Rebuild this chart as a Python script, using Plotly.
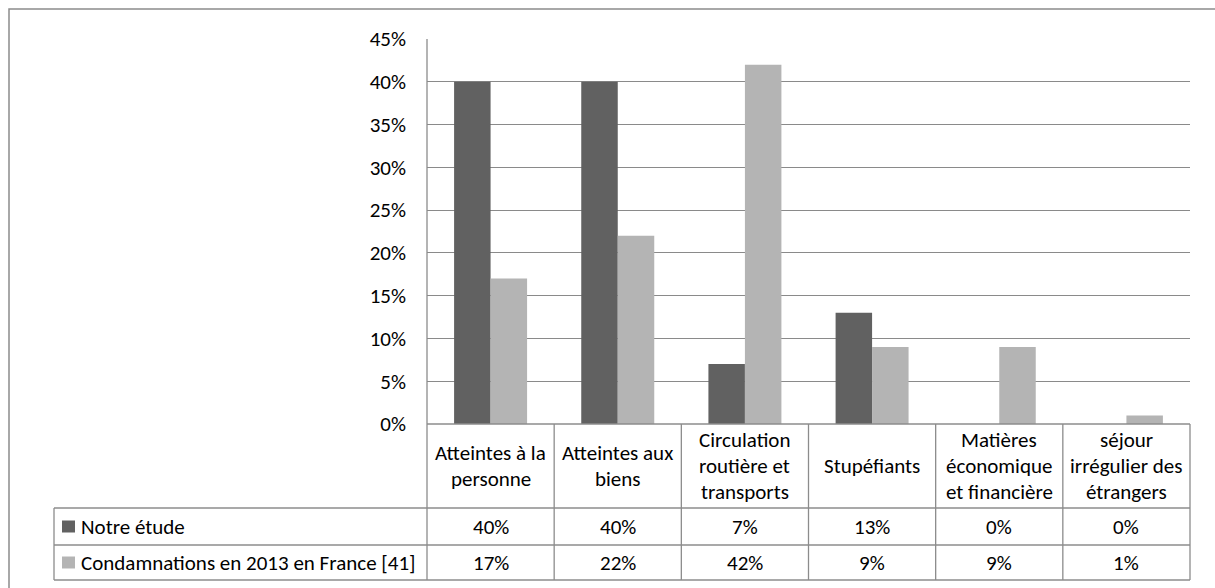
import plotly.graph_objects as go

# ---- data ----
categories = ["Atteintes à la<br>personne", "Atteintes aux<br>biens",
              "Circulation<br>routière et<br>transports", "Stupéfiants",
              "Matières<br>économique<br>et financière",
              "séjour<br>irrégulier des<br>étrangers"]
series_names = ["Notre étude", "Condamnations en 2013 en France [41]"]
notre_etude = [40, 40, 7, 13, 0, 0]
condamnations_2013 = [17, 22, 42, 9, 9, 1]
y_ticks = [0, 5, 10, 15, 20, 25, 30, 35, 40, 45]
tick_labels = [f"{v}%" for v in y_ticks]
series_values = [notre_etude, condamnations_2013]
colors = ["#616161", "#b4b4b4"]

# ---- layout geometry (pixels) ----
W, H = 1215, 588
PL, PR, PT, PB = 427, 1190, 39, 424   # plot area
ROW1, ROW2, ROW3 = 508, 545, 580        # table rows bottom edges
TL = 54                                  # table left
FONT = "Carlito, Calibri, Lato, sans-serif"
FS = 21
LINE = "#8c8c8c"

def X(px):
    return px / W

def Y(py):
    return 1 - py / H

fig = go.Figure()
for name, vals, c in zip(series_names, series_values, colors):
    fig.add_trace(go.Bar(x=categories, y=vals, name=name, marker_color=c,
                         marker_line_width=0, showlegend=False))

shapes = []
annotations = []

def line(x0, y0, x1, y1, w=1.3):
    shapes.append(dict(type="line", xref="paper", yref="paper",
                       x0=X(x0), y0=Y(y0), x1=X(x1), y1=Y(y1),
                       line=dict(color=LINE, width=w)))

# outer border
shapes.append(dict(type="rect", xref="paper", yref="paper",
                   x0=X(9), y0=Y(9), x1=X(1222), y1=Y(595),
                   line=dict(color=LINE, width=1.5)))

# axis & table lines
line(PL, PT, PL, ROW3)                 # y axis + table separator
line(PL, PB, PR, PB)                   # x axis
for r in (ROW1, ROW2, ROW3):
    line(TL, r, PR, r)
line(TL, ROW1, TL, ROW3)
line(PR, PB, PR, ROW3)
colw = (PR - PL) / len(categories)
for i in range(1, len(categories)):
    line(PL + colw * i, PB, PL + colw * i, ROW3)

# header text (category labels), one annotation per line
hc = (PB + ROW1) / 2
for i, cat in enumerate(categories):
    parts = cat.split("<br>")
    n = len(parts)
    cx = PL + colw * (i + 0.5)
    for j, p in enumerate(parts):
        cy = hc + (j - (n - 1) / 2) * 26
        annotations.append(dict(text=p, x=X(cx), y=Y(cy), xref="paper", yref="paper",
                                showarrow=False, xanchor="center", yanchor="middle",
                                font=dict(family=FONT, size=FS, color="#000")))

# data rows
row_centers = [(ROW1 + ROW2) / 2, (ROW2 + ROW3) / 2]
for name, vals, c, rc in zip(series_names, series_values, colors, row_centers):
    shapes.append(dict(type="rect", xref="paper", yref="paper",
                       x0=X(62), x1=X(75), y0=Y(rc - 6), y1=Y(rc + 6),
                       fillcolor=c, line=dict(width=0)))
    annotations.append(dict(text=name, x=X(79), y=Y(rc), xref="paper", yref="paper",
                            showarrow=False, xanchor="left", yanchor="middle",
                            font=dict(family=FONT, size=FS, color="#000")))
    for i, v in enumerate(vals):
        annotations.append(dict(text=f"{v}%", x=X(PL + colw * (i + 0.5)), y=Y(rc),
                                xref="paper", yref="paper", showarrow=False,
                                xanchor="center", yanchor="middle",
                                font=dict(family=FONT, size=FS, color="#000")))

fig.update_layout(
    width=W, height=H, margin=dict(l=0, r=0, t=0, b=0),
    paper_bgcolor="white", plot_bgcolor="white",
    barmode="group", bargap=0.426, bargroupgap=0,
    shapes=shapes, annotations=annotations,
    xaxis=dict(domain=[X(PL), X(PR)], showticklabels=False, showgrid=False,
               showline=False, zeroline=False, ticks="", automargin=False),
    yaxis=dict(domain=[Y(PB), Y(PT)], range=[0, 45], tickvals=y_ticks,
               ticktext=tick_labels, showgrid=True, gridcolor="#8a8a8a", gridwidth=1.3,
               zeroline=False, showline=False, ticks="", ticklabelstandoff=20,
               tickfont=dict(family=FONT, size=FS, color="#000"), automargin=False),
)

fig.write_html("out.html", config={"displayModeBar": False},
               post_script="document.body.style.margin='0';document.body.style.overflow='hidden';")
